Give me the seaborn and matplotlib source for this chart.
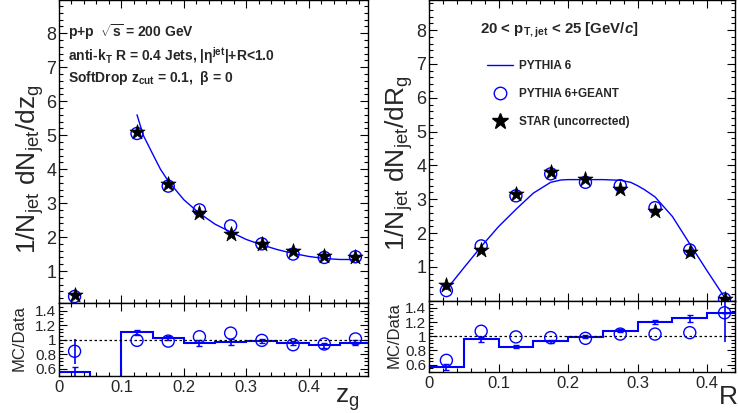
import numpy as np
import pandas as pd
import seaborn as sns
import matplotlib.pyplot as plt
from matplotlib.ticker import MultipleLocator
from matplotlib.lines import Line2D

# ---- z_g panel data ----
zg_pts = [0.025, 0.125, 0.175, 0.225, 0.275, 0.325, 0.375, 0.425, 0.475]
zg_star = [0.30, 5.10, 3.55, 2.70, 2.10, 1.80, 1.60, 1.45, 1.40]
zg_geant = [0.25, 5.05, 3.50, 2.80, 2.33, 1.80, 1.50, 1.40, 1.42]
zg_pythia_x = [0.125, 0.135, 0.15, 0.1625, 0.175, 0.2, 0.225, 0.25, 0.275, 0.3,
               0.325, 0.35, 0.375, 0.4, 0.425, 0.45, 0.475]
zg_pythia_y = [5.60, 5.00, 4.45, 4.00, 3.65, 3.10, 2.70, 2.38, 2.15, 1.93,
               1.77, 1.63, 1.52, 1.43, 1.37, 1.34, 1.34]

zg_edges = [0.0, 0.05, 0.1, 0.15, 0.2, 0.25, 0.3, 0.35, 0.4, 0.45, 0.5]
zg_ratio_hist = [0.55, 0.49, 1.10, 1.02, 0.95, 0.97, 0.98, 0.95, 0.92, 0.96]
zg_hist_err = [0.07, 0.0, 0.035, 0.03, 0.04, 0.04, 0.03, 0.03, 0.04, 0.04]
zg_ratio_geant = [0.84, 0.99, 0.98, 1.04, 1.09, 0.99, 0.93, 0.94, 1.01]
zg_geant_err = [0.17, 0.0, 0.0, 0.0, 0.0, 0.0, 0.0, 0.0, 0.0]

# ---- R_g panel data ----
rg_pts = [0.025, 0.075, 0.125, 0.175, 0.225, 0.275, 0.325, 0.375, 0.425]
rg_star = [0.45, 1.50, 3.15, 3.80, 3.60, 3.30, 2.65, 1.45, 0.05]
rg_geant = [0.30, 1.62, 3.10, 3.75, 3.50, 3.40, 2.75, 1.50, 0.05]
rg_pythia_x = [0.025, 0.05, 0.075, 0.1, 0.125, 0.15, 0.175, 0.19, 0.2, 0.225,
               0.25, 0.275, 0.29, 0.3, 0.31, 0.325, 0.35, 0.375, 0.4, 0.425]
rg_pythia_y = [0.33, 0.97, 1.60, 2.19, 2.70, 3.18, 3.50, 3.57, 3.58, 3.58,
               3.58, 3.56, 3.50, 3.40, 3.28, 3.07, 2.49, 1.68, 0.88, 0.10]

rg_edges = [0.0, 0.05, 0.1, 0.15, 0.2, 0.25, 0.3, 0.35, 0.4, 0.45]
rg_ratio_hist = [0.57, 0.955, 0.85, 0.93, 0.99, 1.08, 1.20, 1.25, 1.33]
rg_hist_err = [0.04, 0.04, 0.02, 0.02, 0.02, 0.02, 0.03, 0.05, 0.0]
rg_ratio_geant = [0.66, 1.07, 0.99, 0.98, 0.97, 1.03, 1.03, 1.05, 1.33]
rg_geant_err = [0.0, 0.0, 0.0, 0.0, 0.0, 0.0, 0.0, 0.0, 0.41]

sns.set_theme(style='ticks')
plt.rcParams['font.family'] = ['Liberation Sans', 'DejaVu Sans']
plt.rcParams['mathtext.fontset'] = 'custom'
plt.rcParams['mathtext.rm'] = 'Liberation Sans'
plt.rcParams['mathtext.bf'] = 'Liberation Sans:bold'
plt.rcParams['mathtext.it'] = 'Liberation Sans:bold:italic'
plt.rcParams['axes.linewidth'] = 1.0

BLUE = '#0000ff'

fig = plt.figure(figsize=(7.38, 4.13), dpi=100)
ax_zt = fig.add_axes([0.0799, 0.2656, 0.4187, 0.7344])
ax_zr = fig.add_axes([0.0799, 0.0896, 0.4187, 0.1760])
ax_rt = fig.add_axes([0.5813, 0.2719, 0.4146, 0.7281])
ax_rr = fig.add_axes([0.5813, 0.1000, 0.4146, 0.1719])


def style_axis(ax, xmax, xlabels, ymajor, yminor, ysize):
    ax.set_xlim(0, xmax)
    ax.xaxis.set_major_locator(MultipleLocator(0.1))
    ax.xaxis.set_minor_locator(MultipleLocator(0.02))
    ax.yaxis.set_major_locator(MultipleLocator(ymajor))
    ax.yaxis.set_minor_locator(MultipleLocator(yminor))
    ax.tick_params(which='both', direction='in', top=True, right=True,
                   color='black', width=0.8)
    ax.tick_params(which='major', length=6, pad=2)
    ax.tick_params(which='minor', length=3)
    ax.tick_params(axis='y', labelsize=ysize)
    ax.tick_params(axis='x', labelsize=12, pad=3)
    if not xlabels:
        ax.tick_params(axis='x', labelbottom=False)
    for s in ax.spines.values():
        s.set_color('black')
    ax.set_xlabel('')
    ax.set_ylabel('')


def top_panel(ax, xs, stars, geant, px, py):
    sns.lineplot(x=px, y=py, ax=ax, color=BLUE, lw=1.0, sort=False)
    sns.scatterplot(x=xs, y=geant, ax=ax, marker='o', s=75, facecolors='none',
                    edgecolor=BLUE, linewidth=1.0, zorder=3)
    sns.scatterplot(x=xs, y=stars, ax=ax, marker='*', s=130, color='black',
                    edgecolor='black', linewidth=0.5, zorder=4)


def ratio_panel(ax, edges, hist, herr, xs, geant, gerr):
    centers = [(a + b) / 2 for a, b in zip(edges[:-1], edges[1:])]
    ax.stairs(hist, edges, baseline=None, color=BLUE, lw=1.5)
    ax.errorbar(centers, hist, yerr=herr, fmt='none', ecolor=BLUE, elinewidth=1.2,
                capsize=2)
    ax.errorbar(xs, geant, yerr=gerr, fmt='none', ecolor=BLUE, elinewidth=1.2)
    sns.scatterplot(x=xs, y=geant, ax=ax, marker='o', s=75, facecolors='none',
                    edgecolor=BLUE, linewidth=1.0, zorder=3)
    ax.axhline(1.0, color='black', ls=(0, (2, 2)), lw=0.9)


ratio_ticks = [0.6, 0.8, 1.0, 1.2, 1.4]
ratio_labels = ['0.6', '0.8', '1', '1.2', '1.4']
x_ticks = [0, 0.1, 0.2, 0.3, 0.4]
x_labels = ['0', '0.1', '0.2', '0.3', '0.4']

# z_g
top_panel(ax_zt, zg_pts, zg_star, zg_geant, zg_pythia_x, zg_pythia_y)
style_axis(ax_zt, 0.495, False, 1, 0.2, 13)
ax_zt.set_ylim(0.05, 8.98)
ax_zt.set_yticks(range(1, 9))

ratio_panel(ax_zr, zg_edges, zg_ratio_hist, zg_hist_err, zg_pts, zg_ratio_geant, zg_geant_err)
style_axis(ax_zr, 0.495, True, 0.2, 0.05, 11)
ax_zr.set_ylim(0.5, 1.5)
ax_zr.set_yticks(ratio_ticks)
ax_zr.set_yticklabels(ratio_labels)
ax_zr.set_xticks(x_ticks)
ax_zr.set_xticklabels(x_labels)

# R_g
top_panel(ax_rt, rg_pts, rg_star, rg_geant, rg_pythia_x, rg_pythia_y)
style_axis(ax_rt, 0.44, False, 1, 0.2, 13)
ax_rt.set_ylim(0.0, 8.89)
ax_rt.set_yticks(range(1, 9))

ratio_panel(ax_rr, rg_edges, rg_ratio_hist, rg_hist_err, rg_pts, rg_ratio_geant, rg_geant_err)
style_axis(ax_rr, 0.44, True, 0.2, 0.05, 11)
ax_rr.set_ylim(0.5, 1.5)
ax_rr.set_yticks(ratio_ticks)
ax_rr.set_yticklabels(ratio_labels)
ax_rr.set_xticks(x_ticks)
ax_rr.set_xticklabels(x_labels)

# axis titles
fig.text(30 / 738, 1 - 169 / 413, r'$\mathrm{1/N_{jet}\ dN_{jet}/dz_{g}}$',
         rotation=90, ha='center', va='center', fontsize=19)
fig.text(399 / 738, 1 - 163 / 413, r'$\mathrm{1/N_{jet}\ dN_{jet}/dR_{g}}$',
         rotation=90, ha='center', va='center', fontsize=19)
fig.text(19 / 738, 1 - 338 / 413, 'MC/Data', rotation=90, ha='center',
         va='center', fontsize=12)
fig.text(394 / 738, 1 - 335 / 413, 'MC/Data', rotation=90, ha='center',
         va='center', fontsize=12)
fig.text(335 / 738, 1 - 403 / 413, r'$\mathrm{z_{g}}$', ha='left',
         va='baseline', fontsize=19)
fig.text(718 / 738, 1 - 405 / 413, r'$\mathrm{R_{g}}$', ha='left',
         va='baseline', fontsize=19)

# annotations
fig.text(68 / 738, 1 - 32 / 413, r'p+p  $\mathbf{\sqrt{s}}$ = 200 GeV',
         fontsize=10, fontweight='bold', va='center')
fig.text(68 / 738, 1 - 56 / 413,
         r'anti-k$_{\mathbf{T}}$ R = 0.4 Jets, |$\mathbf{\eta^{jet}}$|+R<1.0',
         fontsize=10, fontweight='bold', va='center')
fig.text(68 / 738, 1 - 78 / 413,
         r'SoftDrop z$_{\mathbf{cut}}$ = 0.1,  $\mathbf{\beta}$ = 0',
         fontsize=10, fontweight='bold', va='center')
fig.text(480 / 738, 1 - 30 / 413,
         r'20 < p$_{\mathbf{T,jet}}$ < 25 [GeV/$\mathit{c}$]',
         fontsize=10.8, fontweight='bold', va='center')

handles = [
    Line2D([], [], color=BLUE, lw=1.0),
    Line2D([], [], color=BLUE, marker='o', ls='none', mfc='none', ms=9, mew=1.0),
    Line2D([], [], color='black', marker='*', ls='none', ms=12),
]
labels = ['PYTHIA 6', 'PYTHIA 6+GEANT', 'STAR (uncorrected)']
leg = ax_rt.legend(handles, labels, loc='upper left', bbox_to_anchor=(0.17, 0.82),
                   frameon=False, handlelength=2.2, handletextpad=0.5,
                   labelspacing=1.35, borderpad=0, prop={'weight': 'bold', 'size': 8.5})

fig.savefig('out.png', dpi=100)
